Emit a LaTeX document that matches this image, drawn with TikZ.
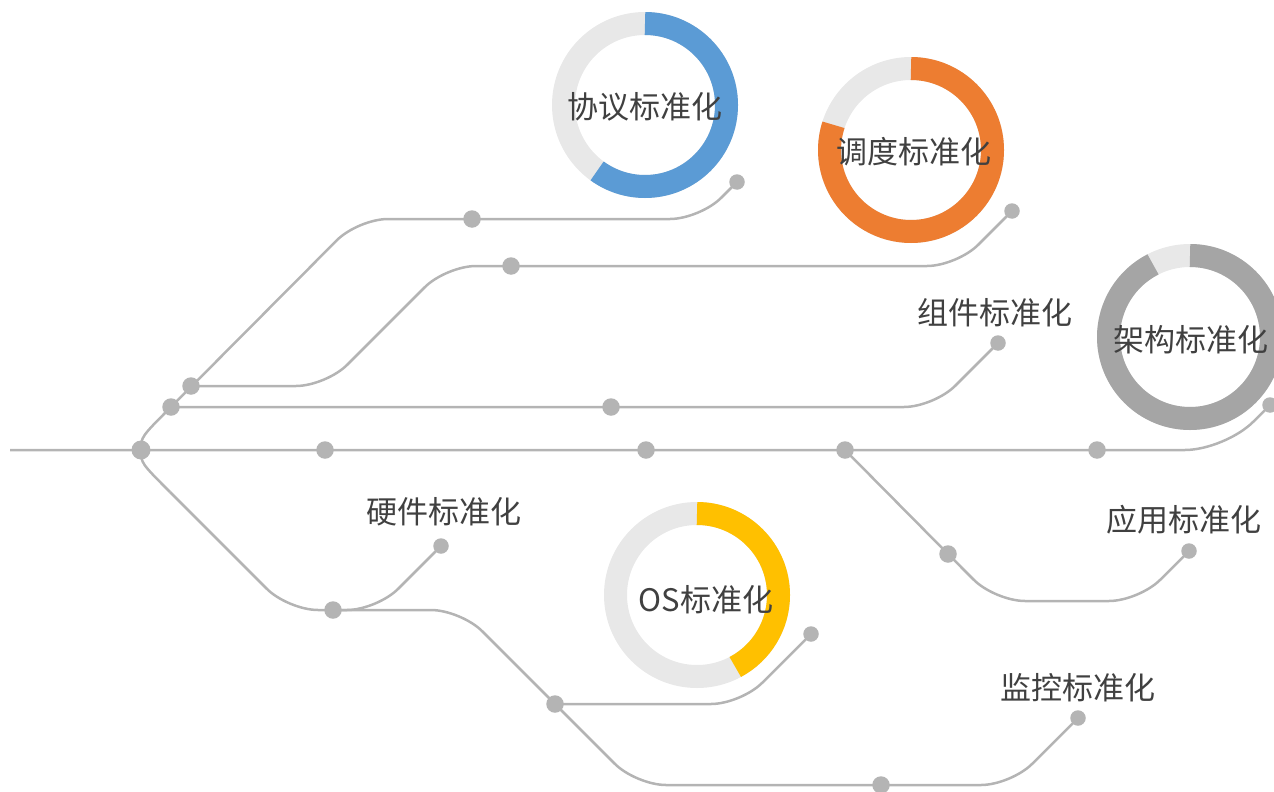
\documentclass[tikz,border=0pt]{standalone}
\usepackage{fontspec}
\newfontfamily\cjk{Noto Sans CJK SC}
\usetikzlibrary{calc}
\definecolor{linegray}{RGB}{180,180,180}
\definecolor{ringbg}{RGB}{232,232,232}
\definecolor{ringblue}{RGB}{91,155,213}
\definecolor{ringorange}{RGB}{237,125,49}
\definecolor{ringgray}{RGB}{165,165,165}
\definecolor{ringyellow}{RGB}{255,192,0}
\definecolor{txt}{RGB}{64,64,64}
\pgfdeclarelayer{background}
\pgfsetlayers{background,main}
\begin{document}
\begin{tikzpicture}[x=1pt,y=-1pt,
  track/.style={draw=linegray, line width=2.5pt, rounded corners=30pt},
  dot/.style={circle, fill=linegray, inner sep=0pt, minimum size=17.5pt},
  bigdot/.style={dot, minimum size=19pt},
  enddot/.style={dot, minimum size=15.5pt},
  lbl/.style={font=\cjk\fontsize{31}{31}\selectfont, text=txt, inner sep=0pt},
  ring/.style={line width=23pt}]
\useasboundingbox (0,0) rectangle (1274,792);
\clip (0,0) rectangle (1274,792);

% ---------- rings ----------
\coordinate (cProt) at (645,105);
\coordinate (cSched) at (911,150);
\coordinate (cArch) at (1190,337);
\coordinate (cOs) at (697,595);
\draw[ring, ringbg] (cProt) circle[radius=81.5];
\draw[ring, ringblue] ($(cProt)+(-90:81.5)$) arc[start angle=-90, end angle=126, radius=81.5];
\draw[ring, ringbg] (cSched) circle[radius=81.5];
\draw[ring, ringorange] ($(cSched)+(-90:81.5)$) arc[start angle=-90, end angle=198, radius=81.5];
\draw[ring, ringbg] (cArch) circle[radius=81.5];
\draw[ring, ringgray] ($(cArch)+(-90:81.5)$) arc[start angle=-90, end angle=243, radius=81.5];
\draw[ring, ringbg] (cOs) circle[radius=81.5];
\draw[ring, ringyellow] ($(cOs)+(-90:81.5)$) arc[start angle=-90, end angle=62, radius=81.5];

% ---------- stations ----------
\coordinate (start) at (10,450);
\node[bigdot] (m0) at (141,450) {};
\node[dot] (m1) at (325,450) {};
\node[dot] (m2) at (646,450) {};
\node[dot] (m3) at (845,450) {};
\node[dot] (m4) at (1097,450) {};
\node[enddot] (eArch) at (1270,405) {};
\node[dot] (u1) at (171,407) {};
\node[dot] (u2) at (191,386) {};
\node[dot] (dProt) at (472,219) {};
\node[enddot] (eProt) at (737,182) {};
\node[dot] (dComp) at (611,407) {};
\node[enddot] (eComp) at (998,343) {};
\node[dot] (dSched) at (511,266) {};
\node[enddot] (eSched) at (1012,211) {};
\coordinate (l1) at (170,492);
\node[dot] (dHw) at (333,610) {};
\node[enddot] (eHw) at (441,546) {};
\node[dot] (dOs) at (555,704) {};
\node[enddot] (eOs) at (811,634) {};
\node[dot] (dMon) at (881,785) {};
\node[enddot] (eMon) at (1078,718) {};
\node[dot] (dApp) at (948,554) {};
\node[enddot] (eApp) at (1189,551) {};

% ---------- tracks ----------
\begin{pgfonlayer}{background}
\path[track, rounded corners=40pt] (start) -- (m0.center) -- (m4.center) -- (1225,450) -- (eArch.center);
\path[track] (m0.center) .. controls (141,437) .. (u1.center);
\path[track] (u1.center) -- (358,219) -- (dProt.center) -- (700,219) -- (eProt.center);
\path[track] (u1.center) -- (dComp.center) -- (934,407) -- (eComp.center);
\path[track] (u2.center) -- (326,386) -- (446,266) -- (dSched.center) -- (957,266) -- (eSched.center);
\path[track] (m0.center) .. controls (141,463) .. (l1);
\path[track] (l1) -- (288,610) -- (461,610) -- (dOs.center) -- (636,785) -- (dMon.center) -- (1011,785) -- (eMon.center);
\path[track] (dHw.center) -- (377,610) -- (eHw.center);
\path[track] (dOs.center) -- (741,704) -- (eOs.center);
\path[track] (m3.center) -- (dApp.center) -- (995,601) -- (1139,601) -- (eApp.center);
\end{pgfonlayer}

% ---------- labels ----------
\node[lbl] (tProt) at (645,107) {协议标准化};
\node[lbl] (tSched) at (914,152) {调度标准化};
\node[lbl] (tArch) at (1191,340) {架构标准化};
\node[lbl] (tComp) at (995,313) {组件标准化};
\node[lbl] (tHw) at (444,512) {硬件标准化};
\node[lbl] (tApp) at (1184,520) {应用标准化};
\node[lbl] (tOs) at (706,600) {OS标准化};
\node[lbl] (tMon) at (1078,688) {监控标准化};
\end{tikzpicture}
\end{document}
